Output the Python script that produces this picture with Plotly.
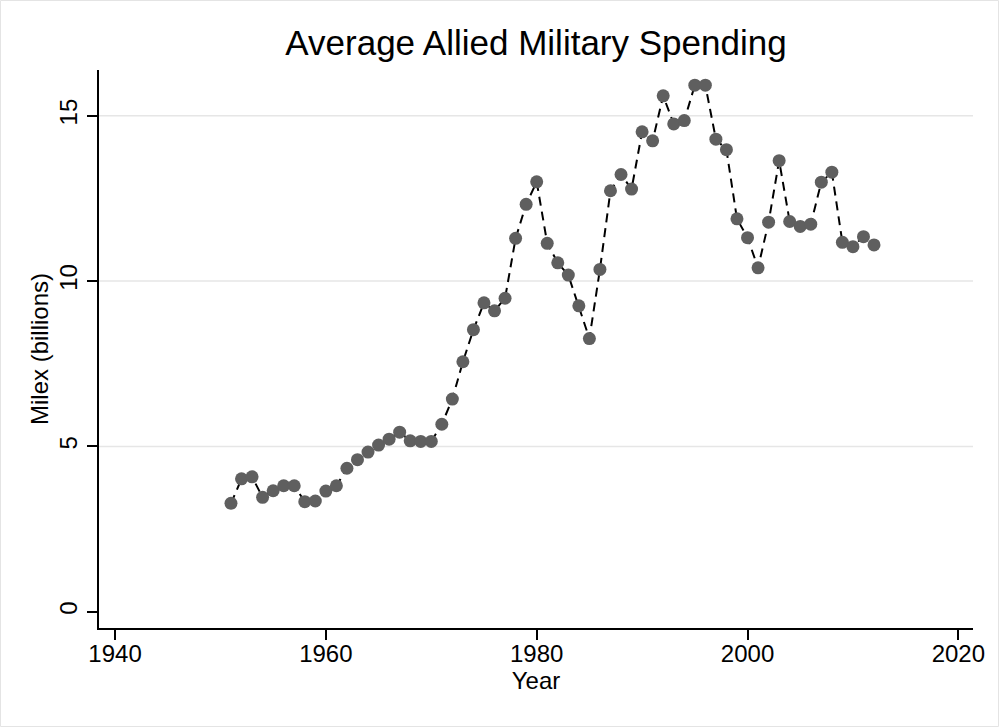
import plotly.graph_objects as go

years = list(range(1951, 2013))
milex = [3.28, 4.02, 4.08, 3.46, 3.66, 3.81, 3.81, 3.33, 3.35, 3.65,
         3.81, 4.34, 4.60, 4.83, 5.04, 5.22, 5.43, 5.17, 5.15, 5.15,
         5.67, 6.43, 7.56, 8.53, 9.34, 9.10, 9.48, 11.29, 12.32, 13.00,
         11.14, 10.55, 10.18, 9.25, 8.26, 10.35, 12.73, 13.22, 12.78, 14.51,
         14.24, 15.60, 14.75, 14.85, 15.92, 15.92, 14.29, 13.97, 11.88, 11.31,
         10.40, 11.78, 13.64, 11.80, 11.65, 11.72, 12.99, 13.29, 11.17, 11.04,
         11.34, 11.09]

x_ticks = [1940, 1960, 1980, 2000, 2020]
y_ticks = [0, 5, 10, 15]
grid_levels = [5, 10, 15]

title_text = "Average Allied Military Spending"
x_title = "Year"
y_title = "Milex (billions)"

FONT = "Liberation Sans, Arial, Helvetica, sans-serif"

fig = go.Figure()
fig.add_trace(go.Scatter(
    x=years, y=milex, mode="lines+markers",
    line=dict(color="black", width=2, dash="9px,6px"),
    marker=dict(color="#5f5f5f", size=13, line=dict(width=0)),
    showlegend=False,
))

shapes = []
for g in grid_levels:
    shapes.append(dict(type="line", xref="paper", yref="y", x0=0, x1=1, y0=g, y1=g,
                       line=dict(color="#e6e6e6", width=1.5), layer="below"))
# outer light frame around the whole image
shapes.append(dict(type="rect", xref="paper", yref="paper",
                   x0=(0.5 - 99) / 874, x1=(998.5 - 99) / 874,
                   y0=(628 - 726.5) / 558, y1=(628 - 0.5) / 558,
                   line=dict(color="#e4e4e4", width=1), fillcolor="rgba(0,0,0,0)"))

fig.update_layout(
    width=999, height=727,
    margin=dict(l=99, r=26, t=70, b=99, autoexpand=False),
    paper_bgcolor="white", plot_bgcolor="white",
    font=dict(family=FONT, color="black", size=24),
    title=dict(text=title_text, x=0.5, xref="paper", xanchor="center",
               y=1 - 43 / 727, yref="container", yanchor="middle",
               font=dict(size=35, family=FONT, color="black")),
    shapes=shapes,
    xaxis=dict(range=[1938.48, 2021.39], tickvals=x_ticks, ticks="outside", ticklen=10,
               tickwidth=1.5, tickcolor="black", showline=True, linecolor="black",
               linewidth=2, showgrid=False, zeroline=False, automargin=False,
               tickfont=dict(size=24), ticklabelstandoff=-7,
               title=dict(text=x_title, standoff=2, font=dict(size=24))),
    yaxis=dict(range=[-0.49, 16.38], tickvals=y_ticks, ticks="outside", ticklen=10,
               tickwidth=1.5, tickcolor="black", showline=True, linecolor="black",
               linewidth=2, showgrid=False, zeroline=False, automargin=False,
               tickangle=-90, tickfont=dict(size=24),
               title=dict(text=y_title, standoff=0, font=dict(size=24))),
)

fig.write_html("out.html", config={"displayModeBar": False},
               post_script="document.body.style.margin='0px';")
